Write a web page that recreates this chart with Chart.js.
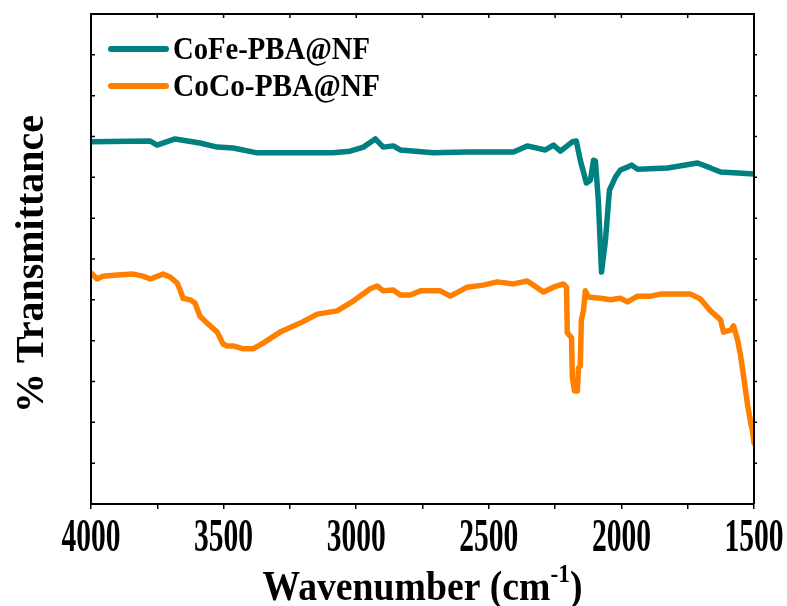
<!DOCTYPE html>
<html>
<head>
<meta charset="utf-8">
<script src="https://cdn.jsdelivr.net/npm/chart.js@4/dist/chart.umd.min.js"></script>
<style>
  html, body { margin: 0; padding: 0; background: #fff; }
  #wrap { width: 787px; height: 606px; }
</style>
</head>
<body>
<div id="wrap"><canvas id="ftirChart" width="787" height="606"></canvas></div>
<script>
// FT-IR spectra, values
var seriesNames = ['CoFe-PBA@NF', 'CoCo-PBA@NF'];
var seriesColors = ['#008080', '#ff8000'];

var cofeWavenumber = [4000, 3777, 3751, 3683, 3589, 3524, 3464, 3374, 3211, 3087, 3023, 2973, 2928, 2898, 2860, 2834,
    2709, 2581, 2456, 2407, 2355, 2287, 2256, 2230, 2185, 2170, 2155, 2132, 2117, 2105, 2098, 2087, 2075, 2060, 2045,
    2022, 2004, 1977, 1962, 1939, 1826, 1713, 1664, 1626, 1577, 1500];
var cofeT = [88.7, 88.9, 87.9, 89.4, 88.4, 87.4, 87.2, 86.0, 86.0, 86.0, 86.4, 87.4, 89.4, 87.4, 87.7, 86.7,
    86.0, 86.2, 86.2, 86.2, 87.7, 86.7, 87.9, 86.4, 88.7, 88.9, 84.2, 78.6, 79.3, 84.2, 84.0, 74.4, 56.8, 64.7, 76.9,
    80.1, 81.8, 82.5, 83.0, 82.0, 82.3, 83.5, 82.3, 81.3, 81.1, 80.8];

var cocoWavenumber = [4000, 3977, 3955, 3902, 3841, 3804, 3777, 3728, 3702, 3675, 3664, 3653, 3626, 3608, 3589, 3562,
    3524, 3502, 3487, 3464, 3426, 3389, 3351, 3287, 3211, 3147, 3072, 3011, 2947, 2921, 2898, 2860, 2834, 2796, 2758,
    2683, 2645, 2581, 2521, 2468, 2407, 2355, 2332, 2294, 2256, 2219, 2207, 2204, 2188, 2185, 2177, 2166, 2162, 2155,
    2151, 2143, 2136, 2124, 2079, 2041, 2004, 1977, 1939, 1890, 1853, 1739, 1702, 1664, 1626, 1615, 1588, 1577, 1562,
    1551, 1539, 1524, 1513, 1505, 1500];
var cocoT = [56.6, 55.1, 55.8, 56.1, 56.3, 55.8, 55.1, 56.3, 55.6, 54.1, 52.4, 50.4, 50.0, 49.2, 46.0, 44.3,
    42.1, 39.2, 38.7, 38.7, 38.0, 38.0, 39.4, 42.1, 44.3, 46.5, 47.3, 49.7, 52.7, 53.4, 52.2, 52.4, 51.2, 51.2, 52.2,
    52.2, 50.9, 53.1, 53.6, 54.4, 53.9, 54.6, 53.6, 51.9, 53.1, 53.9, 53.1, 41.9, 40.7, 31.1, 27.7, 27.7, 33.3, 33.8,
    45.1, 47.3, 52.2, 50.7, 50.4, 50.0, 50.4, 49.5, 50.9, 50.9, 51.4, 51.4, 50.2, 47.3, 45.1, 42.1, 42.6, 43.6, 40.2,
    36.5, 31.1, 24.2, 20.1, 17.6, 14.9];

var xMin = 1500, xMax = 4000, xStep = 250, xLabelStep = 500;
var yMin = 0, yMax = 120, yStep = 10;

var serif = '"Liberation Serif", "Times New Roman", serif';

var toPoints = function (xs, ys) {
    return xs.map(function (x, i) { return { x: x, y: ys[i] }; });
};

// text squeezed horizontally to a given width (the figure uses a narrow bold serif)
var squeezeText = function (ctx, parts, x, y, width, align) {
    var total = 0;
    parts.forEach(function (p) { ctx.font = p.font; p.w = ctx.measureText(p.text).width; total += p.w; });
    var sx = width / total;
    var x0 = align === 'center' ? x - width / 2 : x;
    ctx.save();
    ctx.translate(x0, 0);
    ctx.scale(sx, 1);
    var cx = 0;
    parts.forEach(function (p) {
        ctx.font = p.font;
        ctx.textAlign = 'left';
        ctx.textBaseline = 'alphabetic';
        ctx.fillText(p.text, cx, y + (p.dy || 0));
        cx += p.w;
    });
    ctx.restore();
};

// frame, inner ticks, labels, titles and legend
var decorations = {
    id: 'decorations',
    afterDraw: function (chart) {
        var ctx = chart.ctx;
        var area = chart.chartArea;
        var xs = chart.scales.x, ys = chart.scales.y;
        ctx.save();
        ctx.strokeStyle = '#000';
        ctx.fillStyle = '#000';

        ctx.lineWidth = 2;
        ctx.beginPath();
        ctx.moveTo(area.left, area.bottom);
        ctx.lineTo(area.left, area.top);
        ctx.lineTo(area.right, area.top);
        ctx.lineTo(area.right, area.bottom);
        ctx.stroke();

        ctx.lineWidth = 1.5;
        ctx.beginPath();
        xs.ticks.forEach(function (t) {
            if (t.value === xMin || t.value === xMax) return;
            var px = xs.getPixelForValue(t.value);
            ctx.moveTo(px, area.top);
            ctx.lineTo(px, area.top + 4);
        });
        ys.ticks.forEach(function (t) {
            if (t.value === yMin || t.value === yMax) return;
            var py = ys.getPixelForValue(t.value);
            ctx.moveTo(area.left, py);
            ctx.lineTo(area.left + 4, py);
            ctx.moveTo(area.right, py);
            ctx.lineTo(area.right + 3, py);
        });
        ctx.stroke();

        // x tick labels
        xs.ticks.forEach(function (t) {
            if (t.value % xLabelStep !== 0) return;
            var px = xs.getPixelForValue(t.value);
            squeezeText(ctx, [{ text: String(t.value), font: 'bold 46px ' + serif }], px, 551, 59, 'center');
        });

        // x title with superscript
        squeezeText(ctx, [
            { text: 'Wavenumber (cm', font: 'bold 42px ' + serif },
            { text: '-1', font: 'bold 26px ' + serif, dy: -18 },
            { text: ')', font: 'bold 42px ' + serif }
        ], (area.left + area.right) / 2, 600, 320, 'center');

        // y title
        ctx.save();
        ctx.translate(43, 264);
        ctx.rotate(-Math.PI / 2);
        ctx.font = 'bold 40px ' + serif;
        ctx.textAlign = 'center';
        ctx.textBaseline = 'alphabetic';
        ctx.fillText('% Transmittance', 0, 0);
        ctx.restore();

        // legend
        chart.data.datasets.forEach(function (ds, i) {
            var ly = 49 + 37 * i;
            ctx.strokeStyle = ds.borderColor;
            ctx.lineWidth = 6;
            ctx.lineCap = 'round';
            ctx.beginPath();
            ctx.moveTo(111, ly);
            ctx.lineTo(166, ly);
            ctx.stroke();
            ctx.fillStyle = '#000';
            squeezeText(ctx, [{ text: ds.label, font: 'bold 31px ' + serif }], 173, ly + 10, i === 0 ? 197 : 207, 'left');
        });
        ctx.restore();
    }
};

var ctx = document.getElementById('ftirChart');
new Chart(ctx, {
    type: 'line',
    data: {
        datasets: [{
            label: seriesNames[0],
            data: toPoints(cofeWavenumber, cofeT),
            borderColor: seriesColors[0],
            backgroundColor: seriesColors[0],
            borderWidth: 5.5,
            borderJoinStyle: 'round',
            borderCapStyle: 'round',
            pointRadius: 0,
            tension: 0
        }, {
            label: seriesNames[1],
            data: toPoints(cocoWavenumber, cocoT),
            borderColor: seriesColors[1],
            backgroundColor: seriesColors[1],
            borderWidth: 5.5,
            borderJoinStyle: 'round',
            borderCapStyle: 'round',
            pointRadius: 0,
            tension: 0
        }]
    },
    options: {
        responsive: false,
        animation: false,
        events: [],
        layout: {
            padding: { left: 91, top: 14, right: 33, bottom: 0 }
        },
        plugins: {
            legend: { display: false },
            tooltip: { enabled: false }
        },
        scales: {
            x: {
                type: 'linear',
                reverse: true,
                min: xMin,
                max: xMax,
                ticks: { stepSize: xStep, display: false },
                grid: {
                    drawOnChartArea: false,
                    drawTicks: true,
                    tickLength: 5,
                    color: '#000',
                    lineWidth: 1.5
                },
                border: { display: true, color: '#000', width: 2 },
                afterFit: function (scale) { scale.height = 102; }
            },
            y: {
                type: 'linear',
                display: false,
                min: yMin,
                max: yMax,
                ticks: { stepSize: yStep }
            }
        }
    },
    plugins: [decorations]
});
</script>
</body>
</html>
